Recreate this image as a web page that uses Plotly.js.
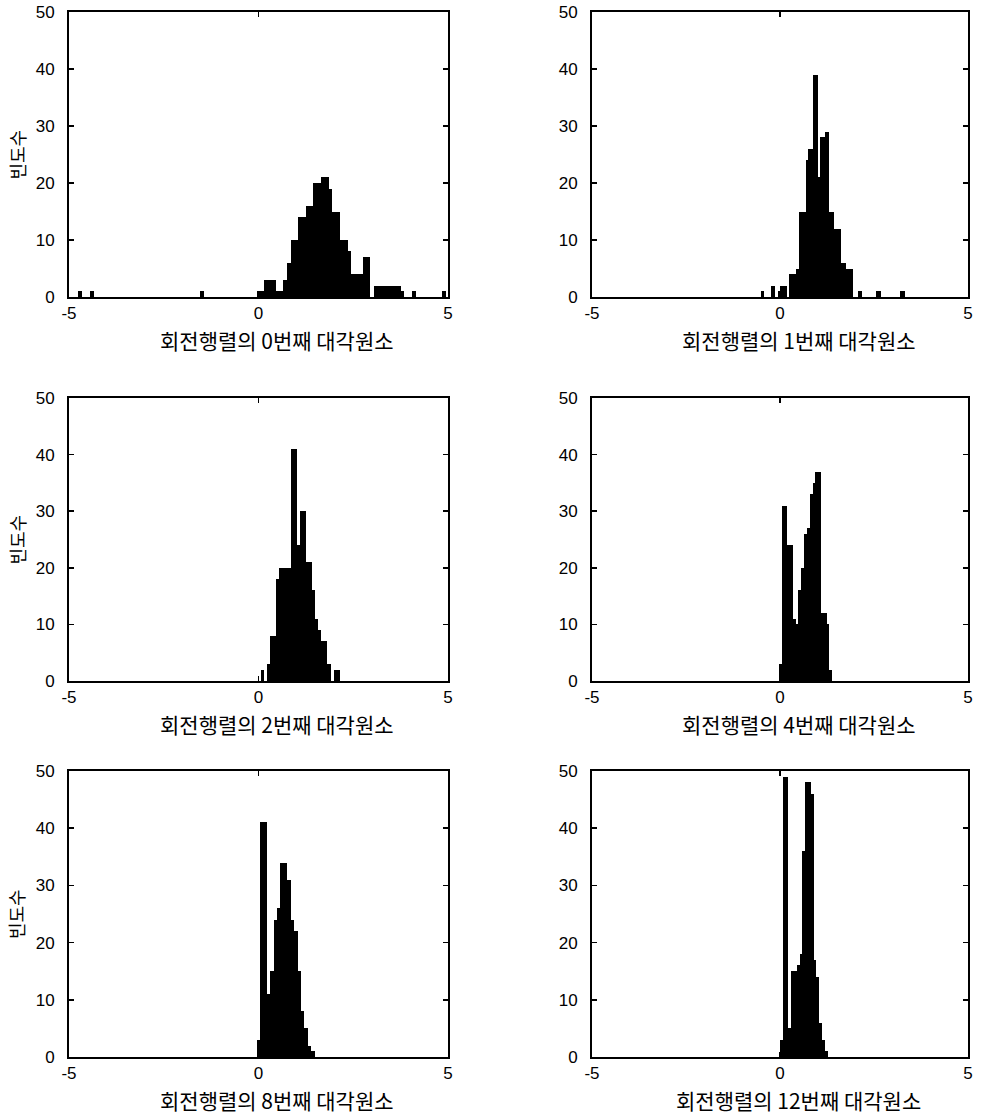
<!DOCTYPE html>
<html>
<head>
<meta charset="utf-8">
<script src="https://cdn.plot.ly/plotly-3.0.1.min.js"></script>
<style>
  html, body { margin: 0; padding: 0; background: #fff; }
  #chart { width: 984px; height: 1116px; }
</style>
</head>
<body>
<div id="chart"></div>
<script>
// ---------------- data ----------------
const panelTitles = [
  '회전행렬의 0번째 대각원소',
  '회전행렬의 1번째 대각원소',
  '회전행렬의 2번째 대각원소',
  '회전행렬의 4번째 대각원소',
  '회전행렬의 8번째 대각원소',
  '회전행렬의 12번째 대각원소'
];
const yTitle = '빈도수';
const xTickVals = [-5, 0, 5];
const xTickText = ['-5', '0', '5'];
const yTickVals = [0, 10, 20, 30, 40, 50];

// panel 0 : bin centres / counts
const d0_x = [-4.7, -4.4, -1.5, 0.0, 0.1, 0.2, 0.3, 0.4, 0.5, 0.6, 0.7, 0.8, 0.9, 1.0, 1.1, 1.2, 1.3, 1.4,
  1.5, 1.6, 1.7, 1.8, 1.9, 2.0, 2.1, 2.2, 2.3, 2.4, 2.5, 2.6, 2.7, 2.8, 2.9, 3.1, 3.2, 3.3, 3.4, 3.5, 3.6,
  3.7, 3.8, 4.1, 4.9];
const d0_y = [1, 1, 1, 1, 1, 3, 3, 3, 1, 1, 3, 6, 10, 10, 14, 14, 16, 16,
  20, 20, 21, 21, 19, 15, 15, 10, 10, 8, 4, 4, 4, 7, 7, 2, 2, 2, 2, 2, 2,
  2, 1, 1, 1];

// panel 1
const d1_x = [-0.469, -0.219, -0.156, -0.031, 0.031, 0.094, 0.156, 0.281, 0.344, 0.406, 0.469, 0.531,
  0.594, 0.656, 0.719, 0.781, 0.844, 0.906, 0.969, 1.031, 1.094, 1.156, 1.219, 1.281, 1.344, 1.406,
  1.469, 1.531, 1.594, 1.656, 1.719, 1.781, 1.844, 1.906, 2.094, 2.156, 2.594, 2.656, 3.219, 3.281];
const d1_y = [1, 2, 2, 1, 2, 2, 2, 4, 4, 4, 5, 15,
  15, 15, 24, 26, 26, 39, 39, 21, 28, 28, 29, 29, 15, 15,
  12, 12, 12, 6, 6, 5, 5, 5, 1, 1, 1, 1, 1, 1];

// panel 2
const d2_x = [0.10, 0.26, 0.34, 0.42, 0.50, 0.58, 0.66, 0.74, 0.82, 0.90, 0.98, 1.06, 1.14, 1.22,
  1.30, 1.38, 1.46, 1.54, 1.62, 1.70, 1.78, 1.86, 2.02, 2.10];
const d2_y = [2, 3, 8, 8, 18, 20, 20, 20, 20, 41, 41, 24, 30, 30,
  21, 21, 16, 11, 9, 7, 7, 3, 2, 2];

// panel 3
const d3_x = [0.003, 0.078, 0.153, 0.228, 0.303, 0.378, 0.453, 0.528, 0.603, 0.678, 0.753, 0.828,
  0.903, 0.978, 1.053, 1.128, 1.203, 1.278, 1.353];
const d3_y = [3, 31, 31, 24, 24, 11, 10, 16, 20, 26, 27, 33,
  35, 37, 37, 12, 12, 10, 2];

// panel 4
const d4_x = [-0.005, 0.085, 0.175, 0.265, 0.355, 0.445, 0.535, 0.625, 0.715, 0.805, 0.895, 0.985,
  1.075, 1.165, 1.255, 1.345, 1.435];
const d4_y = [3, 41, 41, 11, 15, 24, 26, 34, 34, 31, 24, 22,
  15, 8, 5, 2, 1];

// panel 5
const d5_x = [0.033, 0.108, 0.183, 0.258, 0.333, 0.408, 0.483, 0.558, 0.633, 0.708, 0.783, 0.858,
  0.933, 1.008, 1.083, 1.158, 1.233];
const d5_y = [3, 49, 49, 5, 15, 15, 16, 18, 36, 48, 48, 46,
  17, 14, 6, 3, 1];

const panelX = [d0_x, d1_x, d2_x, d3_x, d4_x, d5_x];
const panelY = [d0_y, d1_y, d2_y, d3_y, d4_y, d5_y];

// ---------------- layout / styling ----------------
const binWidths = [0.1, 0.0625, 0.08, 0.075, 0.09, 0.075];
const W = 984, H = 1116;
const colDom = [[69 / W, 448 / W], [592 / W, 968 / W]];
const rowPx = [[12, 297], [398, 681], [771, 1057]]; // top, bottom in px
const rowDom = rowPx.map(r => [1 - r[1] / H, 1 - r[0] / H]);

const tickFont = { family: 'Liberation Sans, Arial, sans-serif', size: 17, color: '#000' };
const cjkFont = { family: 'Noto Sans CJK KR, sans-serif', size: 21, color: '#000' };

const traces = [];
const layout = {
  width: W, height: H,
  margin: { l: 0, r: 0, t: 0, b: 0 },
  paper_bgcolor: '#fff', plot_bgcolor: '#fff',
  showlegend: false,
  bargap: 0,
  annotations: []
};

for (let i = 0; i < 6; i++) {
  const row = Math.floor(i / 2), col = i % 2;
  const sfx = i === 0 ? '' : String(i + 1);
  traces.push({
    type: 'bar',
    x: panelX[i], y: panelY[i],
    width: binWidths[i],
    xaxis: 'x' + sfx, yaxis: 'y' + sfx,
    marker: { color: '#000', line: { width: 0 } },
    hoverinfo: 'x+y'
  });
  layout['xaxis' + sfx] = {
    domain: colDom[col], anchor: 'y' + sfx,
    range: [-5, 5], tickmode: 'array', tickvals: xTickVals, ticktext: xTickText,
    ticks: 'inside', ticklen: 5, tickwidth: 1.5, tickcolor: '#000',
    showline: true, linecolor: '#000', linewidth: 2, mirror: 'ticks',
    showgrid: false, zeroline: false, tickfont: tickFont, ticklabelstandoff: 0,
    fixedrange: true
  };
  layout['yaxis' + sfx] = {
    domain: rowDom[row], anchor: 'x' + sfx,
    range: [0, 50], tickmode: 'array', tickvals: yTickVals,
    ticks: 'inside', ticklen: 5, tickwidth: 1.5, tickcolor: '#000',
    showline: true, linecolor: '#000', linewidth: 2, mirror: 'ticks',
    showgrid: false, zeroline: false, tickfont: tickFont, ticklabelstandoff: 9,
    fixedrange: true
  };
  // x-axis caption under each panel
  layout.annotations.push({
    xref: 'x' + sfx, yref: 'paper',
    x: 0.5, y: 1 - (rowPx[row][1] + 43) / H,
    xanchor: 'center', yanchor: 'middle', borderpad: 0,
    text: panelTitles[i], showarrow: false, font: cjkFont
  });
  // y-axis caption on the left column
  if (col === 0) {
    layout.annotations.push({
      xref: 'paper', yref: 'paper',
      x: 16 / W, y: 1 - (rowPx[row][0] + rowPx[row][1]) / 2 / H,
      xanchor: 'center', yanchor: 'middle', textangle: -90,
      text: yTitle, showarrow: false,
      font: { family: 'Noto Sans CJK KR, sans-serif', size: 18, color: '#000' }
    });
  }
}

Plotly.newPlot('chart', traces, layout, { staticPlot: true, displayModeBar: false });
</script>
</body>
</html>
